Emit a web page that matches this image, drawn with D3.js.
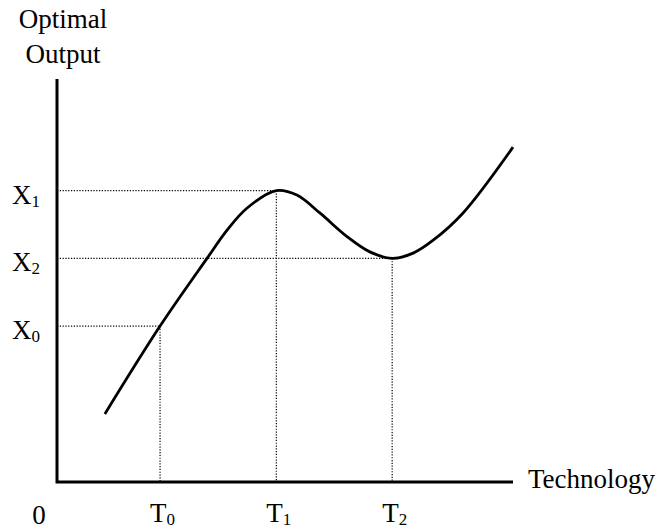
<!DOCTYPE html>
<html>
<head>
<meta charset="utf-8">
<script src="https://cdn.jsdelivr.net/npm/d3@7"></script>
<style>
  html, body { margin: 0; padding: 0; background: #fff; }
  svg text { font-family: "Liberation Serif", "Times New Roman", serif; fill: #000; }
</style>
</head>
<body>
<svg id="chart" width="662" height="531"></svg>
<script>
// ---- data ----
const curveX = [1.05, 2.26, 3.29, 3.73, 4.17, 4.81, 5.26, 5.77, 6.36, 6.86, 7.35, 7.81, 8.25, 8.90, 10.0];
const curveY = [1.69, 3.87, 5.55, 6.25, 6.80, 7.23, 7.12, 6.67, 6.09, 5.71, 5.55, 5.68, 6.00, 6.67, 8.31];
const techNames = ["T", "T", "T"];
const techSubs = ["0", "1", "2"];
const techValues = [2.26, 4.81, 7.35];
const outNames = ["X", "X", "X"];
const outSubs = ["0", "1", "2"];
const outValues = [3.87, 7.23, 5.55];
const yTitle = ["Optimal", "Output"];
const xTitle = "Technology";
const originLabel = "0";

// ---- layout ----
const svg = d3.select("#chart");
const x = d3.scaleLinear().domain([0, 10]).range([57, 513]);
const y = d3.scaleLinear().domain([0, 10]).range([482, 79]);

// dotted guides
const guides = svg.append("g")
  .attr("stroke", "#000").attr("stroke-width", 1.2)
  .attr("stroke-dasharray", "1.2,1.6").attr("fill", "none");
outValues.forEach((v, i) => {
  guides.append("line")
    .attr("x1", x(0)).attr("x2", x(techValues[i]))
    .attr("y1", y(v)).attr("y2", y(v));
  guides.append("line")
    .attr("x1", x(techValues[i])).attr("x2", x(techValues[i]))
    .attr("y1", y(v)).attr("y2", y(0));
});

// curve
const pts = curveX.map((d, i) => [d, curveY[i]]);
svg.append("path")
  .datum(pts)
  .attr("fill", "none").attr("stroke", "#000").attr("stroke-width", 2.8)
  .attr("stroke-linecap", "butt")
  .attr("d", d3.line().x(d => x(d[0])).y(d => y(d[1])).curve(d3.curveCatmullRom.alpha(0.5)));

// axes
svg.append("path")
  .attr("fill", "none").attr("stroke", "#000").attr("stroke-width", 3)
  .attr("stroke-linejoin", "miter")
  .attr("d", d3.line()([[x(0), y(10)], [x(0), y(0)], [x(10), y(0)]]));

// axis titles
svg.selectAll(".ytitle").data(yTitle).enter().append("text")
  .attr("class", "ytitle")
  .attr("x", 63).attr("y", (d, i) => 28 + i * 35)
  .attr("text-anchor", "middle").attr("font-size", 27)
  .text(d => d);

svg.append("text")
  .attr("x", x(10) + 15).attr("y", y(0) + 6)
  .attr("font-size", 27).text(xTitle);

svg.append("text")
  .attr("x", 39).attr("y", 524)
  .attr("text-anchor", "middle").attr("font-size", 27).text(originLabel);

// tech labels
techValues.forEach((v, i) => {
  const t = svg.append("text")
    .attr("x", x(v) - 10).attr("y", 522).attr("font-size", 27);
  t.append("tspan").text(techNames[i]);
  t.append("tspan").attr("font-size", 17).attr("dy", 3).text(techSubs[i]);
});

// output labels
outValues.forEach((v, i) => {
  const t = svg.append("text")
    .attr("x", 12).attr("y", y(v) + 13).attr("font-size", 27);
  t.append("tspan").text(outNames[i]);
  t.append("tspan").attr("font-size", 17).attr("dy", 3).text(outSubs[i]);
});
</script>
</body>
</html>
